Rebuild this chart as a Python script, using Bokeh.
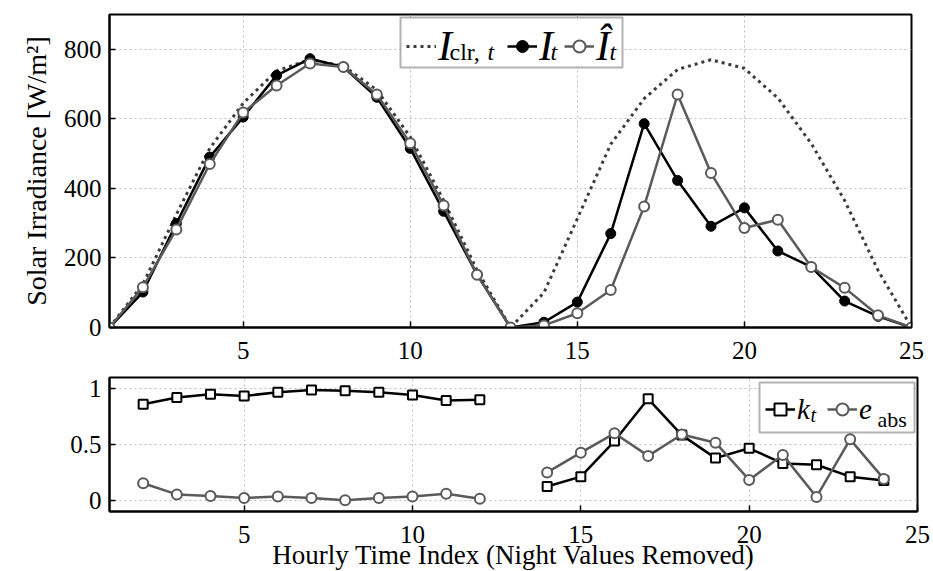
from bokeh.plotting import figure
from bokeh.models import (Range1d, FixedTicker, Legend, LegendItem,
                          BoxAnnotation, Label, CustomJSTickFormatter, ColumnDataSource)
from bokeh.layouts import column
from bokeh.embed import file_html
from bokeh.resources import INLINE

NAN = float("nan")

# ---------------- data ----------------
hours = list(range(1, 26))
i_clear = [0, 125, 325, 515, 645, 738, 770, 752, 683, 548, 365, 165, 0,
           100, 313, 527, 658, 742, 770, 745, 660, 529, 365, 164, 0]
i_meas = [0, 102, 299, 490, 605, 725, 773, 749, 662, 515, 334, 152, 0,
          15, 73, 270, 586, 423, 291, 344, 220, 174, 76, 32, 0]
i_fcst = [0, 116, 282, 470, 618, 696, 759, 749, 670, 530, 351, 152, 0,
          6, 41, 108, 348, 670, 444, 286, 310, 174, 114, 35, 0]
k_t = [NAN, 0.86, 0.92, 0.95, 0.935, 0.967, 0.988, 0.982, 0.967, 0.944, 0.894, 0.90, NAN,
       0.124, 0.212, 0.531, 0.909, 0.584, 0.378, 0.466, 0.33, 0.319, 0.212, 0.177, NAN]
e_abs = [NAN, 0.153, 0.053, 0.038, 0.02, 0.035, 0.02, 0.0, 0.02, 0.035, 0.059, 0.015, NAN,
         0.25, 0.427, 0.60, 0.398, 0.59, 0.516, 0.183, 0.407, 0.03, 0.546, 0.192, NAN]

x_ticks = [5, 10, 15, 20, 25]
irr_ticks = [0, 200, 400, 600, 800]
ratio_ticks = [0, 0.5, 1]

SERIF = "Liberation Serif"
GRAY = "#5a5a5a"
TICK_PX = "25px"


def style_axis(ax):
    ax.axis_line_color = "black"
    ax.axis_line_width = 2
    ax.major_tick_in = 6
    ax.major_tick_out = 0
    ax.major_tick_line_color = "black"
    ax.major_tick_line_width = 1.5
    ax.minor_tick_line_color = None
    ax.major_label_text_font = SERIF
    ax.major_label_text_color = "black"
    ax.major_label_text_font_size = TICK_PX
    ax.axis_label_text_color = "black"


def make_fig(fw, fh, left, right, top, bottom, yr):
    return figure(frame_width=fw, frame_height=fh,
                  min_border_left=left, min_border_right=right,
                  min_border_top=top, min_border_bottom=bottom,
                  x_range=Range1d(1, 25), y_range=yr,
                  output_backend="svg", toolbar_location=None,
                  background_fill_color="white", border_fill_color="white",
                  outline_line_color="black", outline_line_width=2)


def finish_axes(p, yticks, yformatter=None):
    xa, ya = p.below[0], p.left[0]
    xa.ticker = FixedTicker(ticks=x_ticks)
    ya.ticker = FixedTicker(ticks=yticks)
    if yformatter is not None:
        ya.formatter = yformatter
    style_axis(xa)
    style_axis(ya)
    p.xgrid.ticker = FixedTicker(ticks=x_ticks)
    p.ygrid.ticker = FixedTicker(ticks=yticks)
    for g in (p.xgrid[0], p.ygrid[0]):
        g.grid_line_color = "#bdbdbd"
        g.grid_line_width = 1
        g.grid_line_dash = "2 3"
    return xa, ya


def legend_entry(p, renderers, label, size, x, y):
    lg = Legend(items=[LegendItem(label=label, renderers=renderers)],
                location=(x, y), orientation="horizontal", padding=0, spacing=0,
                margin=0, border_line_color=None, background_fill_alpha=0,
                glyph_width=30, glyph_height=50, label_height=50, label_width=0,
                label_standoff=2, label_text_font=SERIF, label_text_font_style="italic",
                label_text_font_size=size, label_text_baseline="alphabetic",
                label_text_color="black")
    p.add_layout(lg)


def text(p, x, y, s, size, italic=True):
    p.add_layout(Label(x=x, y=y, x_units="screen", y_units="screen", text=s,
                       text_font=SERIF, text_font_size=size,
                       text_font_style="italic" if italic else "normal",
                       text_color="black", text_align="left",
                       text_baseline="alphabetic"))


def legend_box(p, l, r, b, t):
    p.add_layout(BoxAnnotation(left=l, right=r, bottom=b, top=t,
                               left_units="screen", right_units="screen",
                               bottom_units="screen", top_units="screen",
                               fill_color="white", fill_alpha=1,
                               line_color="black", line_width=2))


# ---------------- top figure ----------------
p1 = make_fig(802, 313, 108, 15, 14, 40, Range1d(0, 900))
xa1, ya1 = finish_axes(p1, irr_ticks)
ya1.axis_label = "Solar Irradiance [W/m\u00b2]"
ya1.axis_label_text_font = SERIF
ya1.axis_label_text_font_style = "normal"
ya1.axis_label_text_font_size = "28px"
ya1.axis_label_standoff = 9
ya1.major_label_standoff = 8
xa1.major_label_standoff = 14

src1 = ColumnDataSource(dict(hour=hours, clear=i_clear, meas=i_meas, fcst=i_fcst))
r_clr = p1.line("hour", "clear", source=src1, line_color="#3c3c3c", line_width=3, line_dash="3 4")
r_ml = p1.line("hour", "meas", source=src1, line_color="black", line_width=2.5)
r_mm = p1.scatter("hour", "meas", source=src1, marker="circle", size=10,
                  fill_color="black", line_color="black")
r_fl = p1.line("hour", "fcst", source=src1, line_color=GRAY, line_width=2.5)
r_fm = p1.scatter("hour", "fcst", source=src1, marker="circle", size=10,
                  fill_color="white", line_color=GRAY, line_width=2)

legend_box(p1, 291, 513, 260, 310)
legend_entry(p1, [r_clr], "I", "42px", 297, 256)
legend_entry(p1, [r_ml, r_mm], "I", "42px", 398, 256)
legend_entry(p1, [r_fl, r_fm], "\u00ce", "42px", 455, 256)
text(p1, 340, 276, "clr,", "24px", italic=False)
text(p1, 378, 276, "t", "24px")
text(p1, 441, 276, "t", "24px")
text(p1, 500, 276, "t", "24px")

# ---------------- bottom figure ----------------
p2 = make_fig(808, 134, 109, 16, 10, 59, Range1d(-0.1, 1.1))
xa2, ya2 = finish_axes(p2, ratio_ticks, CustomJSTickFormatter(code="return tick.toString();"))
ya2.major_label_standoff = 8
xa2.major_label_standoff = 14
xa2.axis_label = "Hourly Time Index (Night Values Removed)"
xa2.axis_label_text_font = SERIF
xa2.axis_label_text_font_style = "normal"
xa2.axis_label_text_font_size = "27px"
xa2.axis_label_standoff = -6

src2 = ColumnDataSource(dict(hour=hours, kt=k_t, eabs=e_abs))
r_kl = p2.line("hour", "kt", source=src2, line_color="black", line_width=2.5)
r_km = p2.scatter("hour", "kt", source=src2, marker="square", size=9,
                  fill_color="white", line_color="black", line_width=2)
r_el = p2.line("hour", "eabs", source=src2, line_color=GRAY, line_width=2.5)
r_em = p2.scatter("hour", "eabs", source=src2, marker="circle", size=10,
                  fill_color="white", line_color=GRAY, line_width=2)

legend_box(p2, 650, 805, 79, 129)
legend_entry(p2, [r_kl, r_km], "k", "29px", 656, 77)
legend_entry(p2, [r_el, r_em], "e", "29px", 718, 77)
text(p2, 701, 97, "t", "20px")
text(p2, 768, 92, "abs", "22px", italic=False)

layout = column(p1, p2)
open("out.html", "w").write(file_html(layout, INLINE))
